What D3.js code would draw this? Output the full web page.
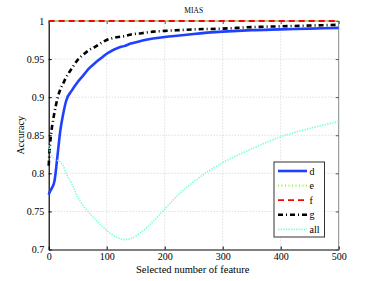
<!DOCTYPE html>
<html>
<head>
<meta charset="utf-8">
<script src="https://cdn.jsdelivr.net/npm/d3@7"></script>
<style>
  body { margin: 0; background: #fff; }
  svg text { font-family: "Liberation Serif", "Times New Roman", "DejaVu Serif", serif !important; fill: #000; }
</style>
</head>
<body>
<div id="chart"></div>
<script>
// Chart data
const featureCounts = [0, 2, 5, 10, 15, 20, 25, 30, 40, 50, 60, 70, 80, 90, 100, 120, 130, 140, 160, 180, 200, 225, 250, 300, 350, 400, 450, 500];
const dValues   = [0.772, 0.776, 0.780, 0.790, 0.822, 0.856, 0.878, 0.895, 0.909, 0.920, 0.929, 0.938, 0.945, 0.951, 0.957, 0.965, 0.967, 0.970, 0.974, 0.977, 0.979, 0.981, 0.983, 0.986, 0.988, 0.989, 0.990, 0.991];
const eValues   = [1, 1, 1, 1, 1, 1, 1, 1, 1, 1, 1, 1, 1, 1, 1, 1, 1, 1, 1, 1, 1, 1, 1, 1, 1, 1, 1, 1];
const fValues   = [1, 1, 1, 1, 1, 1, 1, 1, 1, 1, 1, 1, 1, 1, 1, 1, 1, 1, 1, 1, 1, 1, 1, 1, 1, 1, 1, 1];
const gValues   = [0.810, 0.835, 0.857, 0.880, 0.898, 0.910, 0.918, 0.926, 0.938, 0.949, 0.956, 0.962, 0.966, 0.971, 0.975, 0.979, 0.980, 0.982, 0.984, 0.986, 0.987, 0.988, 0.989, 0.990, 0.992, 0.993, 0.994, 0.995];
const allValues = [0.837, 0.830, 0.823, 0.819, 0.817, 0.815, 0.810, 0.800, 0.786, 0.769, 0.757, 0.748, 0.740, 0.732, 0.725, 0.715, 0.713, 0.714, 0.723, 0.737, 0.753, 0.773, 0.789, 0.814, 0.832, 0.848, 0.859, 0.868];

const seriesNames = ["d", "e", "f", "g", "all"];
const xTicks = [0, 100, 200, 300, 400, 500];
const yTicks = [0.7, 0.75, 0.8, 0.85, 0.9, 0.95, 1];

const width = 374, height = 281;
const margin = {top: 21, right: 35.3, bottom: 31.5, left: 48.7};
const serif = '"Liberation Serif", "Times New Roman", "DejaVu Serif", serif';

const svg = d3.select("#chart").append("svg")
    .attr("width", width)
    .attr("height", height);

const x = d3.scaleLinear().domain([0, 500]).range([margin.left, width - margin.right]);
const y = d3.scaleLinear().domain([0.7, 1]).range([height - margin.bottom, margin.top]);

// Grid
const grid = svg.append("g").attr("stroke", "#c4c4c4").attr("stroke-width", 0.8).attr("stroke-dasharray", "1,2");
grid.selectAll("line.gx").data(xTicks.slice(1, -1)).enter().append("line")
    .attr("x1", d => x(d)).attr("x2", d => x(d))
    .attr("y1", y(0.7)).attr("y2", y(1));
grid.selectAll("line.gy").data(yTicks.slice(1, -1)).enter().append("line")
    .attr("x1", x(0)).attr("x2", x(500))
    .attr("y1", d => y(d)).attr("y2", d => y(d));

// Box: top and right edges in grey
svg.append("path")
    .attr("d", `M${x(0)},${y(1)}H${x(500)}V${y(0.7)}`)
    .attr("fill", "none").attr("stroke", "#888").attr("stroke-width", 1);

// Axes with inward ticks
const fmt = d => String(+d.toFixed(2));
const xAxis = svg.append("g").attr("transform", `translate(0,${y(0.7)})`)
    .call(d3.axisBottom(x).tickValues(xTicks).tickSizeInner(-3).tickSizeOuter(0).tickPadding(3.5).tickFormat(d3.format("d")));
const yAxis = svg.append("g").attr("transform", `translate(${x(0)},0)`)
    .call(d3.axisLeft(y).tickValues(yTicks).tickSizeInner(-3).tickSizeOuter(0).tickPadding(4.5).tickFormat(fmt));
svg.append("g").attr("transform", `translate(${x(500)},0)`)
    .call(d3.axisRight(y).tickValues(yTicks).tickSizeInner(-3).tickSizeOuter(0).tickFormat(""))
    .call(g => g.select(".domain").remove())
    .selectAll("line").attr("stroke", "#555");
svg.append("g").attr("transform", `translate(0,${y(1)})`)
    .call(d3.axisTop(x).tickValues(xTicks).tickSizeInner(-3).tickSizeOuter(0).tickFormat(""))
    .call(g => g.select(".domain").remove())
    .selectAll("line").attr("stroke", "#555");

[xAxis, yAxis].forEach(a => {
    a.attr("font-family", null);
    a.selectAll("text").style("font-family", serif).attr("font-size", 10);
    a.select(".domain").attr("stroke", "#000").attr("stroke-width", 1.2);
});

// Series
const line = d3.line().curve(d3.curveMonotoneX).x(d => x(d[0])).y(d => y(d[1]));
const series = [
    {name: "d",   values: dValues,   color: "#2040ff", width: 2.6, dash: null},
    {name: "e",   values: eValues,   color: "#7cfc00", width: 1.6, dash: "1,2.5"},
    {name: "f",   values: fValues,   color: "#ff0000", width: 1.8, dash: "6,4"},
    {name: "g",   values: gValues,   color: "#000000", width: 2.6, dash: "5,3,1,3"},
    {name: "all", values: allValues, color: "#70ffdc", width: 1.6, dash: "1.3,1.3"}
];

svg.append("g").selectAll("path").data(series).enter().append("path")
    .attr("d", s => line(featureCounts.map((c, i) => [c, s.values[i]])))
    .attr("fill", "none")
    .attr("stroke", s => s.color)
    .attr("stroke-width", s => s.width)
    .attr("stroke-dasharray", s => s.dash);

// Title and labels
svg.append("text").attr("x", x(250)).attr("y", 13).attr("text-anchor", "middle")
    .style("font-family", serif).attr("font-size", 7.5).text("MIAS");
svg.append("text").attr("x", x(250) - 1).attr("y", 272.5).attr("text-anchor", "middle")
    .style("font-family", serif).attr("font-size", 10.5).text("Selected number of feature");
svg.append("text").attr("transform", `translate(20,${y(0.85)}) rotate(-90)`)
    .attr("text-anchor", "middle").attr("dy", "0.35em")
    .style("font-family", serif).attr("font-size", 10).text("Accuracy");

// Legend
const legend = svg.append("g").attr("transform", "translate(274,162)");
legend.append("rect").attr("width", 50.5).attr("height", 75)
    .attr("fill", "#fff").attr("stroke", "#333").attr("stroke-width", 1);
const item = legend.selectAll("g.item").data(series).enter().append("g")
    .attr("transform", (d, i) => `translate(0,${9 + i * 14.6})`);
item.append("line").attr("x1", 4).attr("x2", 33)
    .attr("stroke", s => s.color)
    .attr("stroke-width", s => s.width)
    .attr("stroke-dasharray", s => s.dash);
item.append("text").attr("x", 35.5).attr("dy", "0.35em")
    .style("font-family", serif).attr("font-size", 10).text(s => s.name);
</script>
</body>
</html>
